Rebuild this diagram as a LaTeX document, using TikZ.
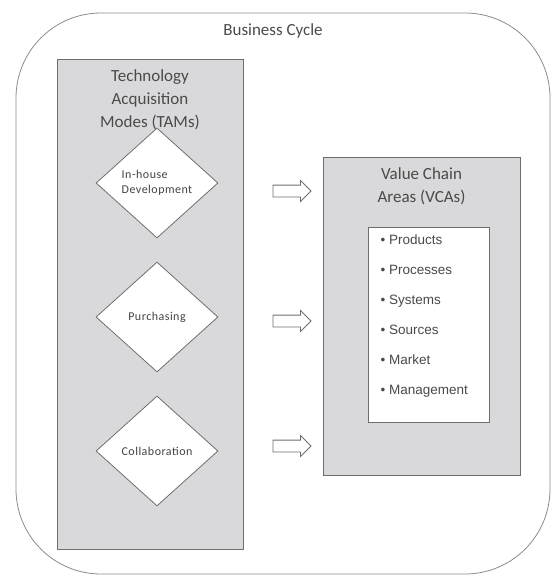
\documentclass[tikz,border=0pt]{standalone}
\usepackage{fontspec}
\setmainfont{Carlito}
\newfontfamily\modefont[LetterSpace=4]{Carlito}
\newfontfamily\listfont{Liberation Sans}
\usepackage{tikz}
\usetikzlibrary{shapes.geometric, shapes.arrows, positioning}
\usepackage{xcolor}
\definecolor{boxgray}{HTML}{D9D9DB}
\definecolor{linegray}{HTML}{6E6E6E}
\definecolor{textgray}{HTML}{4A4A4A}
\tikzstyle{cyclebox} = [rectangle, rounded corners=85pt, minimum width=534pt, minimum height=561pt, draw=linegray!80, line width=0.8pt]
\tikzstyle{areabox} = [rectangle, draw=linegray, line width=1pt, fill=boxgray]
\tikzstyle{listbox} = [rectangle, draw=linegray, line width=1pt, fill=white, minimum width=121pt, minimum height=195pt]
\tikzstyle{mode} = [diamond, minimum width=122pt, minimum height=110pt, inner sep=0pt, draw=linegray, line width=0.8pt, fill=white, align=left, text=textgray!90!black, font=\modefont\fontsize{12}{15}\selectfont]
\tikzstyle{title} = [align=center, text=textgray, font=\fontsize{17}{23}\selectfont]
\tikzstyle{flowarrow} = [single arrow, draw=linegray, line width=0.8pt, fill=white, inner xsep=0pt, inner ysep=5.5pt, text height=0pt, text depth=0pt, minimum height=38pt, single arrow head extend=4.5pt]

\begin{document}
\begin{tikzpicture}[x=1pt, y=-1pt, node distance=24pt]
\useasboundingbox (0,0) rectangle (551,575);

\node (cycle) [cyclebox] at (283,293.5) {};
\node (cyclelabel) [title] at (273,31) {Business Cycle};

\node (tams) [areabox, minimum width=186pt, minimum height=489pt] at (150,304.5) {};
\node (tamstitle) [title, below=10pt of tams.north, inner sep=0pt] {Technology\\Acquisition\\Modes (TAMs)};

\node (inhouse) [mode] at (157,183) {In-house\\Development};
\node (purchasing) [mode, below of=inhouse, yshift=-110pt] {Purchasing};
\node (collab) [mode, below of=purchasing, yshift=-110pt] {Collaboration};

\node (vcas) [areabox, minimum width=197pt, minimum height=318pt] at (421.5,316) {};
\node (vcastitle) [title, below=11pt of vcas.north, inner sep=0pt] {Value Chain\\Areas (VCAs)};
\node (vcabox) [listbox] at (428.5,324.5) {};
\node (vcalist) [below right=8pt and 13pt of vcabox.north west, anchor=north west, inner sep=0pt, align=left, text=textgray, font=\listfont\fontsize{13.5}{30}\selectfont] {\textbullet\;Products\\\textbullet\;Processes\\\textbullet\;Systems\\\textbullet\;Sources\\\textbullet\;Market\\\textbullet\;Management};

\node (arrow1) [flowarrow] at (289,191) {};
\node (arrow2) [flowarrow] at (289,321) {};
\node (arrow3) [flowarrow] at (289,446) {};

\end{tikzpicture}
\end{document}
